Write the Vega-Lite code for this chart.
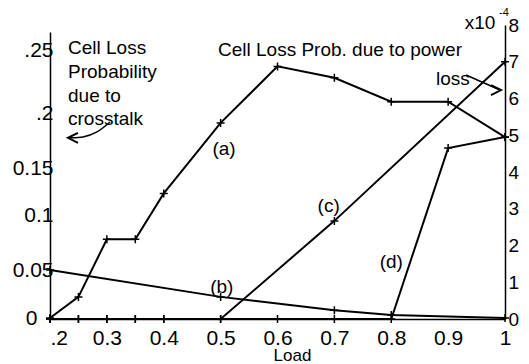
{
  "$schema": "https://vega.github.io/schema/vega-lite/v6.json",
  "width": 455,
  "height": 294,
  "autosize": "none",
  "padding": {"left": 50, "top": 25, "right": 24, "bottom": 45},
  "background": "white",
  "config": {
    "view": {"stroke": null},
    "font": "Liberation Sans",
    "axis": {"grid": false, "domainColor": "black", "labelColor": "black", "titleColor": "black", "labelFont": "Liberation Sans", "titleFont": "Liberation Sans", "domainWidth": 1.5}
  },
  "datasets": {
    "left": [
      {"series": "a", "load": 0.2, "prob": 0},
      {"series": "a", "load": 0.25, "prob": 0.022},
      {"series": "a", "load": 0.3, "prob": 0.078},
      {"series": "a", "load": 0.35, "prob": 0.078},
      {"series": "a", "load": 0.4, "prob": 0.123},
      {"series": "a", "load": 0.5, "prob": 0.191},
      {"series": "a", "load": 0.6, "prob": 0.237},
      {"series": "a", "load": 0.7, "prob": 0.228},
      {"series": "a", "load": 0.8, "prob": 0.209},
      {"series": "a", "load": 0.9, "prob": 0.209},
      {"series": "a", "load": 1.0, "prob": 0.178},
      {"series": "b", "load": 0.2, "prob": 0.05},
      {"series": "b", "load": 0.5, "prob": 0.022},
      {"series": "b", "load": 0.7, "prob": 0.008},
      {"series": "b", "load": 0.8, "prob": 0.003},
      {"series": "b", "load": 1.0, "prob": 0}
    ],
    "right": [
      {"series": "c", "load": 0.2, "p": 0},
      {"series": "c", "load": 0.25, "p": 0},
      {"series": "c", "load": 0.3, "p": 0},
      {"series": "c", "load": 0.35, "p": 0},
      {"series": "c", "load": 0.4, "p": 0},
      {"series": "c", "load": 0.5, "p": 0},
      {"series": "c", "load": 0.7, "p": 2.67},
      {"series": "c", "load": 1.0, "p": 7.0},
      {"series": "d", "load": 0.2, "p": 0},
      {"series": "d", "load": 0.25, "p": 0},
      {"series": "d", "load": 0.3, "p": 0},
      {"series": "d", "load": 0.35, "p": 0},
      {"series": "d", "load": 0.4, "p": 0},
      {"series": "d", "load": 0.5, "p": 0},
      {"series": "d", "load": 0.6, "p": 0},
      {"series": "d", "load": 0.7, "p": 0},
      {"series": "d", "load": 0.8, "p": 0},
      {"series": "d", "load": 0.9, "p": 4.65},
      {"series": "d", "load": 1.0, "p": 4.95}
    ],
    "notesLeft": [
      {"label": "Cell Loss", "load": 0.2317, "p": 7.38},
      {"label": "Probability", "load": 0.2317, "p": 6.72},
      {"label": "due to", "load": 0.2317, "p": 6.07},
      {"label": "crosstalk", "load": 0.2317, "p": 5.44},
      {"label": "Cell Loss Prob. due to power", "load": 0.4954, "p": 7.32},
      {"label": "loss", "load": 0.8787, "p": 6.53}
    ],
    "notesCenter": [
      {"label": "(a)", "load": 0.506, "p": 4.63},
      {"label": "(b)", "load": 0.502, "p": 0.87},
      {"label": "(c)", "load": 0.69, "p": 3.07},
      {"label": "(d)", "load": 0.8, "p": 1.55},
      {"label": "x10", "load": 0.956, "p": 8.05}
    ],
    "notesSmall": [
      {"label": "-4", "load": 0.998, "p": 8.33}
    ],
    "arrowCross": [
      {"ord": 1, "load": 0.3055, "p": 5.36},
      {"ord": 2, "load": 0.2826, "p": 5.09},
      {"ord": 3, "load": 0.258, "p": 4.95},
      {"ord": 4, "load": 0.2316, "p": 4.93}
    ],
    "arrowPower": [
      {"ord": 1, "load": 0.9314, "p": 6.64},
      {"ord": 2, "load": 0.9912, "p": 6.23}
    ],
    "headCross": [{"load": 0.2404, "p": 4.93}],
    "headPower": [{"load": 0.9842, "p": 6.23}]
  },
  "encoding": {
    "x": {
      "field": "load",
      "type": "quantitative",
      "scale": {"domain": [0.2, 1.0], "nice": false, "zero": false},
      "axis": {
        "values": [0.2, 0.3, 0.4, 0.5, 0.6, 0.7, 0.8, 0.9, 1.0],
        "labelExpr": "datum.value == 0.2 ? '.2' : datum.value == 1 ? '1' : format(datum.value, '.1f')",
        "labelAlign": {"condition": {"test": "datum.value == 0.2", "value": "left"}, "value": "center"},
        "ticks": false,
        "labelPadding": 8,
        "labelFontSize": 21,
        "labelFlush": false,
        "title": "Load",
        "titleFontSize": 17,
        "titleFontWeight": "normal",
        "titleBaseline": "bottom",
        "titleX": 242,
        "titleY": 45
      }
    }
  },
  "layer": [
    {
      "data": {"name": "left"},
      "encoding": {
        "y": {
          "field": "prob",
          "type": "quantitative",
          "scale": {"domain": [0, 0.05, 0.1, 0.15, 0.2, 0.25, 0.265], "range": [293, 245, 190, 143, 88, 25, 7], "nice": false, "zero": false},
          "axis": {
            "orient": "left",
            "values": [0, 0.05, 0.1, 0.15, 0.2, 0.25],
            "labelExpr": "datum.value == 0 ? '0' : datum.value == 0.2 ? '.2' : datum.value == 0.25 ? '.25' : format(datum.value, '~g')",
            "ticks": false,
            "labelPadding": {"condition": {"test": "datum.value == 0", "value": 13}, "value": -3},
            "labelFontSize": 21,
            "labelFlush": false,
            "title": null
          }
        },
        "detail": {"field": "series"}
      },
      "layer": [
        {"mark": {"type": "line", "stroke": "black", "strokeWidth": 2}},
        {"mark": {"type": "point", "shape": "M-1,0H1M0,-1V1", "size": 64, "stroke": "black", "strokeWidth": 1.5, "filled": false, "opacity": 1}}
      ]
    },
    {
      "encoding": {
        "y": {
          "field": "p",
          "type": "quantitative",
          "scale": {"domain": [0, 8], "nice": false, "zero": false},
          "axis": {
            "orient": "right",
            "values": [0, 1, 2, 3, 4, 5, 6, 7, 8],
            "ticks": false,
            "labelPadding": 3,
            "labelFontSize": 19,
            "labelFlush": false,
            "title": null
          }
        }
      },
      "layer": [
        {"data": {"name": "right"}, "mark": {"type": "line", "stroke": "black", "strokeWidth": 2}, "encoding": {"detail": {"field": "series"}}},
        {"data": {"name": "right"}, "mark": {"type": "point", "shape": "M-1,0H1M0,-1V1", "size": 64, "stroke": "black", "strokeWidth": 1.5, "filled": false, "opacity": 1}},
        {"data": {"name": "notesLeft"}, "mark": {"type": "text", "align": "left", "baseline": "middle", "fontSize": 19, "font": "Liberation Sans", "color": "black"}, "encoding": {"text": {"field": "label"}}},
        {"data": {"name": "notesCenter"}, "mark": {"type": "text", "align": "center", "baseline": "middle", "fontSize": 19, "font": "Liberation Sans", "color": "black"}, "encoding": {"text": {"field": "label"}}},
        {"data": {"name": "notesSmall"}, "mark": {"type": "text", "align": "center", "baseline": "middle", "fontSize": 11, "font": "Liberation Sans", "color": "black"}, "encoding": {"text": {"field": "label"}}},
        {"data": {"name": "arrowCross"}, "mark": {"type": "line", "interpolate": "cardinal", "stroke": "black", "strokeWidth": 1.5}, "encoding": {"order": {"field": "ord"}}},
        {"data": {"name": "arrowPower"}, "mark": {"type": "line", "stroke": "black", "strokeWidth": 1.5}, "encoding": {"order": {"field": "ord"}}},
        {"data": {"name": "headCross"}, "mark": {"type": "point", "shape": "M1,-1L-1,0L1,1", "size": 100, "stroke": "black", "strokeWidth": 2, "filled": false, "opacity": 1}},
        {"data": {"name": "headPower"}, "mark": {"type": "point", "shape": "M-1,-1L1,0L-1,1", "size": 100, "stroke": "black", "strokeWidth": 2, "filled": false, "opacity": 1}}
      ]
    }
  ],
  "resolve": {"scale": {"y": "independent"}, "axis": {"y": "independent"}}
}
